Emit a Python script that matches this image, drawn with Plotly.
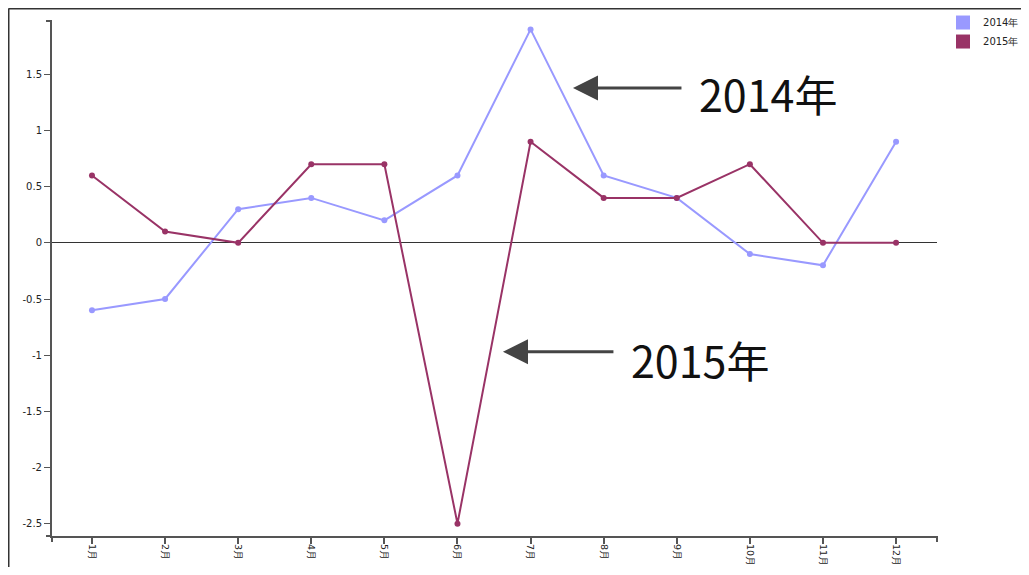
import plotly.graph_objects as go

months = ["1月", "2月", "3月", "4月", "5月", "6月", "7月", "8月", "9月", "10月", "11月", "12月"]
series_names = ["2014年", "2015年"]
values_2014 = [-0.6, -0.5, 0.3, 0.4, 0.2, 0.6, 1.9, 0.6, 0.4, -0.1, -0.2, 0.9]
values_2015 = [0.6, 0.1, 0.0, 0.7, 0.7, -2.5, 0.9, 0.4, 0.4, 0.7, 0.0, 0.0]
colors = ["#9999ff", "#993366"]
y_tickvals = [-2.5, -2, -1.5, -1, -0.5, 0, 0.5, 1, 1.5]
y_ticktext = ["-2.5", "-2", "-1.5", "-1", "-0.5", "0", "0.5", "1", "1.5"]

fig = go.Figure()
for name, vals, col in zip(series_names, [values_2014, values_2015], colors):
    fig.add_trace(go.Scatter(
        x=months, y=vals, mode="lines+markers", name=name,
        line=dict(color=col, width=2), marker=dict(color=col, size=6),
        showlegend=False, hoverinfo="x+y+name"))
for name, col in zip(series_names, colors):
    fig.add_trace(go.Scatter(
        x=[None], y=[None], mode="markers", name=name,
        marker=dict(color=col, size=14, symbol="square"), showlegend=True))

axis_col = "#555555"
tick_font = dict(family="DejaVu Sans", size=10, color="#222222")

W, H = 1013, 559
L, R, T, B = 44, 84, 13, 31

fig.update_layout(
    width=W, height=H,
    margin=dict(l=L, r=R, t=T, b=B, autoexpand=False),
    paper_bgcolor="white", plot_bgcolor="white",
    showlegend=True,
    legend=dict(x=1.0068, y=1.0252, xanchor="left", yanchor="top",
                font=dict(family="DejaVu Sans", size=10, color="#222222"),
                bgcolor="rgba(0,0,0,0)", tracegroupgap=0),
    xaxis=dict(range=[-0.547, 11.56], showgrid=False, zeroline=False,
               showline=True, linecolor=axis_col, linewidth=2,
               ticks="outside", ticklen=6, tickcolor=axis_col, tickwidth=2,
               tickangle=90, tickfont=dict(family="DejaVu Sans", size=9.5, color="#222222"),
               ticklabelstandoff=-2),
    yaxis=dict(range=[-2.61, 1.975], showgrid=False,
               zeroline=True, zerolinecolor="#333333", zerolinewidth=1,
               showline=True, linecolor=axis_col, linewidth=2,
               ticks="outside", ticklen=6, tickcolor=axis_col, tickwidth=1,
               tickvals=y_tickvals, ticktext=y_ticktext, tickfont=tick_font),
)

# outer end ticks of the axes (d3-style domain path)
end_tick = dict(type="line", line=dict(color=axis_col, width=2), layer="above")
fig.add_shape(xref="paper", yref="paper", xsizemode="pixel", xanchor=0, x0=-6, x1=0, y0=1, y1=1, **end_tick)
fig.add_shape(xref="paper", yref="paper", xsizemode="pixel", xanchor=0, x0=-6, x1=0, y0=0, y1=0, **end_tick)
fig.add_shape(xref="paper", yref="paper", ysizemode="pixel", yanchor=0, y0=0, y1=-6, x0=0, x1=0, **end_tick)
fig.add_shape(xref="paper", yref="paper", ysizemode="pixel", yanchor=0, y0=0, y1=-6, x0=1, x1=1, **end_tick)

# outer frame (left and top edges of the chart box)
pw, ph = W - L - R, H - T - B
fx = (0.5 - L) / pw
fy = (H - B - 0.5) / ph
frame = dict(type="line", line=dict(color="#333333", width=2), xref="paper", yref="paper")
fig.add_shape(x0=fx, x1=fx, y0=fy, y1=-0.2, **frame)
fig.add_shape(x0=fx, x1=1.3, y0=fy, y1=fy, **frame)

# callout arrows and labels
arrow = dict(xref="x", yref="y", axref="pixel", ayref="pixel", text="", showarrow=True,
             arrowhead=2, arrowsize=1.67, arrowwidth=3, arrowcolor="#444444", standoff=0)
fig.add_annotation(x=6.58, y=1.378, ax=110, ay=0, **arrow)
fig.add_annotation(x=5.622, y=-0.969, ax=112, ay=0, **arrow)

label = dict(xref="x", yref="y", showarrow=False, xanchor="left", yanchor="middle",
             font=dict(family="Noto Sans CJK SC", size=43, color="#111111"))
fig.add_annotation(x=8.28, y=1.333, text="2014年", **label)
fig.add_annotation(x=7.35, y=-1.036, text="2015年", **label)

fig.write_html("out.html")
